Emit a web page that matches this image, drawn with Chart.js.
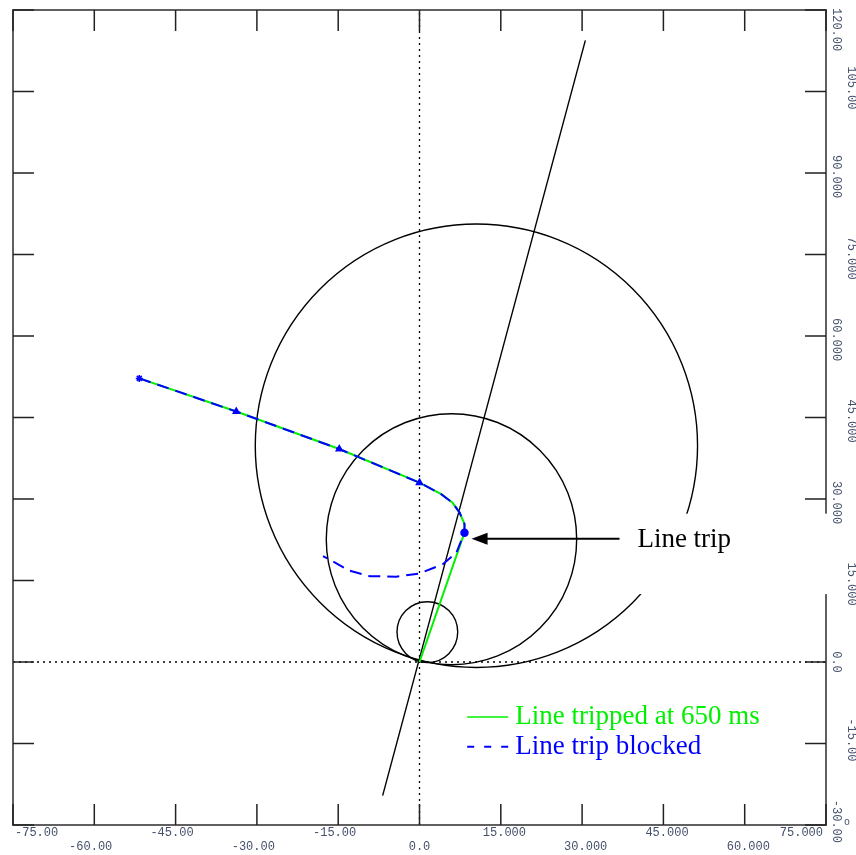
<!DOCTYPE html>
<html lang="en">
<head>
<meta charset="UTF-8">
<title>Impedance trajectory - line trip</title>
<script src="https://cdn.jsdelivr.net/npm/chart.js"></script>
<style>
    body { margin: 0; background: #fff; }
    #wrap { width: 856px; height: 855px; }
</style>
</head>
<body>
<div id="wrap"><canvas id="impedanceChart" width="856" height="855"></canvas></div>
<script>
// axis ticks (R on x, X on y)
const xTicks = [-75, -60, -45, -30, -15, 0, 15, 30, 45, 60, 75];
const xTickLabels = ['-75.00', '-60.00', '-45.00', '-30.00', '-15.00', '0.0', '15.000', '30.000', '45.000', '60.000', '75.000'];
const yTicks = [-30, -15, 0, 15, 30, 45, 60, 75, 90, 105, 120];
const yTickLabels = ['-30.00', '-15.00', '0.0', '15.000', '30.000', '45.000', '60.000', '75.000', '90.000', '105.00', '120.00'];

// mho zone circles (centre, radius)
const circleX = [1.45, 5.9, 10.5];
const circleY = [5.5, 22.6, 39.8];
const circleR = [5.6, 23.1, 40.8];

// line angle characteristic
const relayLineX = [-6.8, 30.6];
const relayLineY = [-24.6, 114.4];

// swing trajectory up to the trip point
const swingX = [-51.7, -33.8, -14.8, 0.0, 4.0, 6.1, 7.4, 8.3, 8.3];
const swingY = [52.2, 46.1, 39.2, 33.0, 30.9, 29.3, 27.5, 25.4, 23.8];
// tripped: collapses to the origin
const trippedX = [0.0];
const trippedY = [0.0];
// blocked: swing carries on
const blockedX = [6.8, 4.3, 0.0, -4.3, -9.2, -12.9, -17.8];
const blockedY = [20.1, 18.0, 16.3, 15.7, 15.8, 16.8, 19.5];

// annotation + legend
const tripArrowFrom = [36.9, 22.7];
const tripArrowTo = [9.6, 22.7];
const tripLabel = 'Line trip';
const tripLabelAt = [40.2, 22.4];
const labelBoxX = 37.8;
const labelBoxY = [12.5, 27.3];
const legendLabels = ['Line tripped at 650 ms', 'Line trip blocked'];
const legendAt = [8.8, -10.1, -15.6];

const GREEN = '#00f000';
const BLUE = '#0000ff';
const SERIF = '"Liberation Serif", "Times New Roman", serif';
const MONO = '12px "Liberation Mono", "DejaVu Sans Mono", monospace';

function pts(xs, ys) {
    return xs.map((x, i) => ({ x: x, y: ys[i] }));
}

const bluePts = pts(swingX.concat(blockedX), swingY.concat(blockedY));
const greenPts = pts(swingX.concat(trippedX), swingY.concat(trippedY));
const markerStyle = bluePts.map((p, i) => i === 0 ? 'star' : (i < 4 ? 'triangle' : 'circle'));
const markerRadius = bluePts.map((p, i) => (i < 4 || i === swingX.length - 1) ? 3.5 : 0);

// circles, frame, ticks, labels, annotation
const impedancePlot = {
    id: 'impedancePlot',
    beforeDatasetsDraw(chart) {
        const { ctx, scales: { x, y } } = chart;
        ctx.save();
        ctx.strokeStyle = '#000';
        ctx.lineWidth = 1.4;
        for (let i = 0; i < circleX.length; i++) {
            const cx = x.getPixelForValue(circleX[i]);
            const cy = y.getPixelForValue(circleY[i]);
            const rx = x.getPixelForValue(circleX[i] + circleR[i]) - cx;
            const ry = cy - y.getPixelForValue(circleY[i] + circleR[i]);
            ctx.beginPath();
            ctx.ellipse(cx, cy, rx, ry, 0, 0, Math.PI * 2);
            ctx.stroke();
        }
        ctx.restore();
    },
    afterDraw(chart) {
        const { ctx, chartArea: a, scales: { x, y } } = chart;
        ctx.save();

        // frame
        ctx.strokeStyle = '#606060';
        ctx.lineWidth = 2;
        ctx.strokeRect(a.left, a.top, a.right - a.left, a.bottom - a.top);

        // inward ticks on all four sides
        const tl = 21;
        ctx.strokeStyle = '#222';
        ctx.lineWidth = 1.5;
        ctx.beginPath();
        xTicks.forEach(v => {
            const px = x.getPixelForValue(v);
            ctx.moveTo(px, a.bottom); ctx.lineTo(px, a.bottom - tl);
            ctx.moveTo(px, a.top); ctx.lineTo(px, a.top + tl);
        });
        yTicks.forEach(v => {
            const py = y.getPixelForValue(v);
            ctx.moveTo(a.left, py); ctx.lineTo(a.left + tl, py);
            ctx.moveTo(a.right, py); ctx.lineTo(a.right - tl, py);
        });
        ctx.stroke();

        // tick labels, lined up on the decimal point
        ctx.font = MONO;
        ctx.fillStyle = '#44506a';
        ctx.textAlign = 'left';
        ctx.textBaseline = 'middle';
        const dotW = ctx.measureText('.').width;
        xTickLabels.forEach((s, i) => {
            const w = ctx.measureText(s).width;
            const before = ctx.measureText(s.slice(0, s.indexOf('.'))).width;
            let sx = x.getPixelForValue(xTicks[i]) - before - dotW / 2;
            sx = Math.max(a.left + 2, Math.min(a.right - 3 - w, sx));
            ctx.fillText(s, sx, i % 2 === 0 ? a.bottom + 8 : a.bottom + 22);
        });
        yTickLabels.forEach((s, i) => {
            const w = ctx.measureText(s).width;
            const before = ctx.measureText(s.slice(0, s.indexOf('.'))).width;
            let sy = y.getPixelForValue(yTicks[i]) - before - dotW / 2;
            sy = Math.max(a.top - 2, Math.min(852 - w, sy));
            ctx.save();
            ctx.translate(i % 2 === 0 ? a.right + 10 : a.right + 25, sy);
            ctx.rotate(Math.PI / 2);
            ctx.fillText(s, 0, 0);
            ctx.restore();
        });
        ctx.font = '10px "Liberation Mono", monospace';
        ctx.fillText('o', a.right + 18, a.bottom - 3);

        // white label box behind "Line trip"
        const bx = x.getPixelForValue(labelBoxX);
        const by0 = y.getPixelForValue(labelBoxY[1]);
        const by1 = y.getPixelForValue(labelBoxY[0]);
        ctx.fillStyle = '#fff';
        ctx.fillRect(bx, by0, a.right + 3 - bx, by1 - by0);

        // arrow
        const ax0 = x.getPixelForValue(tripArrowFrom[0]);
        const ax1 = x.getPixelForValue(tripArrowTo[0]);
        const ay = y.getPixelForValue(tripArrowTo[1]);
        ctx.strokeStyle = '#000';
        ctx.lineWidth = 2;
        ctx.beginPath();
        ctx.moveTo(ax0, ay);
        ctx.lineTo(ax1 + 12, ay);
        ctx.stroke();
        ctx.fillStyle = '#000';
        ctx.beginPath();
        ctx.moveTo(ax1, ay);
        ctx.lineTo(ax1 + 16, ay - 6);
        ctx.lineTo(ax1 + 16, ay + 6);
        ctx.closePath();
        ctx.fill();

        ctx.font = '27px ' + SERIF;
        ctx.textBaseline = 'middle';
        ctx.fillText(tripLabel, x.getPixelForValue(tripLabelAt[0]), y.getPixelForValue(tripLabelAt[1]));

        // legend
        const lx = x.getPixelForValue(legendAt[0]);
        const ly1 = y.getPixelForValue(legendAt[1]);
        const ly2 = y.getPixelForValue(legendAt[2]);
        ctx.lineWidth = 1.5;
        ctx.strokeStyle = GREEN;
        ctx.beginPath();
        ctx.moveTo(lx, ly1); ctx.lineTo(lx + 41, ly1);
        ctx.stroke();
        ctx.strokeStyle = BLUE;
        ctx.lineWidth = 2;
        ctx.setLineDash([7, 10]);
        ctx.beginPath();
        ctx.moveTo(lx, ly2); ctx.lineTo(lx + 41, ly2);
        ctx.stroke();
        ctx.setLineDash([]);
        ctx.fillStyle = GREEN;
        ctx.fillText(legendLabels[0], lx + 48, ly1);
        ctx.fillStyle = BLUE;
        ctx.fillText(legendLabels[1], lx + 48, ly2);

        ctx.restore();
    }
};

const ctx = document.getElementById('impedanceChart').getContext('2d');
new Chart(ctx, {
    type: 'scatter',
    data: {
        datasets: [
            {
                label: 'Line trip blocked',
                data: bluePts,
                showLine: true,
                borderColor: BLUE,
                backgroundColor: BLUE,
                borderWidth: 2,
                borderDash: [12, 7],
                pointStyle: markerStyle,
                pointRadius: markerRadius,
                pointBorderWidth: 1.5,
                order: 1
            },
            {
                label: 'Line tripped at 650 ms',
                data: greenPts,
                showLine: true,
                borderColor: GREEN,
                borderWidth: 2,
                pointRadius: 0,
                order: 2
            },
            {
                label: 'relay line',
                data: pts(relayLineX, relayLineY),
                showLine: true,
                borderColor: '#000',
                borderWidth: 1.4,
                pointRadius: 0,
                order: 3
            },
            {
                label: 'R axis',
                data: pts([-75, 75], [0, 0]),
                showLine: true,
                borderColor: '#000',
                borderWidth: 1.3,
                borderDash: [2, 4],
                pointRadius: 0,
                order: 4
            },
            {
                label: 'X axis',
                data: pts([0, 0], [-30, 120]),
                showLine: true,
                borderColor: '#000',
                borderWidth: 1.3,
                borderDash: [2, 4],
                pointRadius: 0,
                order: 4
            }
        ]
    },
    options: {
        responsive: false,
        animation: false,
        layout: { padding: { left: 13, top: 10, right: 30, bottom: 30 } },
        plugins: {
            legend: { display: false },
            tooltip: { enabled: false }
        },
        scales: {
            x: { type: 'linear', min: -75, max: 75, display: false },
            y: { type: 'linear', min: -30, max: 120, display: false }
        }
    },
    plugins: [impedancePlot]
});
</script>
</body>
</html>
